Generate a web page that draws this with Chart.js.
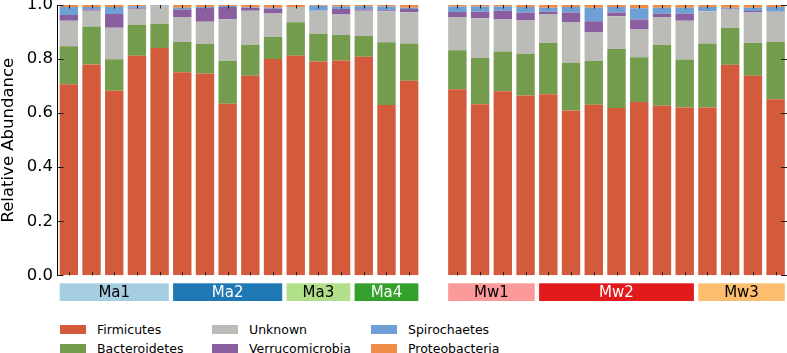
<!DOCTYPE html>
<html><head><meta charset="utf-8">
<script src="https://cdn.jsdelivr.net/npm/chart.js@4/dist/chart.umd.min.js"></script>
<style>
html,body{margin:0;padding:0;background:#fff;}
body{width:787px;height:353px;overflow:hidden;position:relative;font-family:"DejaVu Sans",sans-serif;}
#cl{position:absolute;left:0;top:-10px;}
#cr{position:absolute;left:440px;top:-10px;}
.li{position:absolute;height:19px;font-size:12.5px;line-height:19px;color:#000;white-space:nowrap;}
.sw{position:absolute;left:0;top:5px;width:26px;height:9px;}
.lt{position:absolute;left:37px;top:0;}
</style></head>
<body>
<canvas id="cl" width="425" height="320"></canvas>
<canvas id="cr" width="347" height="320"></canvas>
<div id="legend"></div>
<script>
// ---- data ----
const phyla = ['Firmicutes','Bacteroidetes','Unknown','Verrucomicrobia','Spirochaetes','Proteobacteria'];
const phylumColors = ['#d35a3a','#739d4c','#bbbcb7','#8a5f9f','#6fa0d5','#ef8c48'];
const yTicks = [0.0,0.2,0.4,0.6,0.8,1.0];

const maSamples = ['Ma1-1','Ma1-2','Ma1-3','Ma1-4','Ma1-5','Ma2-1','Ma2-2','Ma2-3','Ma2-4','Ma2-5','Ma3-1','Ma3-2','Ma3-3','Ma4-1','Ma4-2','Ma4-3'];
const maGroups = ['Ma1','Ma2','Ma3','Ma4'];
const maGroupSizes = [5,5,3,3];
const maFirmicutes      = [.707,.780,.683,.812,.841,.751,.747,.635,.738,.800,.812,.791,.795,.809,.630,.720];
const maBacteroidetes   = [.140,.140,.116,.115,.090,.112,.109,.159,.115,.083,.124,.103,.094,.076,.232,.138];
const maUnknown         = [.095,.059,.117,.059,.064,.091,.082,.153,.126,.086,.057,.085,.076,.094,.115,.115];
const maVerrucomicrobia = [.021,.004,.051,.004,.001,.029,.051,.046,.011,.017,.000,.000,.020,.004,.004,.012];
const maSpirochaetes    = [.030,.010,.026,.005,.002,.007,.004,.003,.002,.004,.000,.018,.009,.012,.013,.005];
const maProteobacteria  = [.007,.007,.007,.005,.002,.010,.007,.004,.008,.010,.007,.003,.006,.005,.006,.010];

const mwSamples = ['Mw1-1','Mw1-2','Mw1-3','Mw1-4','Mw2-1','Mw2-2','Mw2-3','Mw2-4','Mw2-5','Mw2-6','Mw2-7','Mw3-1','Mw3-2','Mw3-3','Mw3-4'];
const mwGroups = ['Mw1','Mw2','Mw3'];
const mwGroupSizes = [4,7,4];
const mwFirmicutes      = [.688,.633,.681,.665,.670,.610,.631,.619,.641,.627,.621,.621,.779,.738,.651];
const mwBacteroidetes   = [.145,.171,.147,.155,.189,.176,.162,.218,.166,.226,.177,.237,.136,.121,.212];
const mwUnknown         = [.123,.147,.118,.123,.106,.151,.105,.121,.102,.101,.144,.119,.068,.113,.112];
const mwVerrucomicrobia = [.018,.024,.033,.029,.010,.035,.042,.014,.037,.014,.026,.000,.003,.006,.000];
const mwSpirochaetes    = [.020,.019,.015,.021,.015,.021,.050,.021,.042,.022,.022,.016,.004,.012,.018];
const mwProteobacteria  = [.006,.006,.006,.007,.010,.007,.010,.007,.012,.010,.010,.007,.010,.010,.007];

const maGroupColors = ['#a6cee3','#1f78b4','#b2df8a','#33a02c'];
const maGroupText   = ['#000','#fff','#000','#fff'];
const mwGroupColors = ['#fb9a99','#e31a1c','#fdbf6f'];
const mwGroupText   = ['#000','#fff','#000'];

// ---- chart ----
const BAR_PCT = 0.81;
const FONT = '"DejaVu Sans", sans-serif';

function datasets(series){
  return phyla.map((p,i)=>({label:p,data:series[i],backgroundColor:phylumColors[i],borderWidth:0,
    barPercentage:BAR_PCT,categoryPercentage:1}));
}

const marks = {
  id:'marks',
  afterDatasetsDraw(chart, args, opts){
    const {ctx, chartArea:a, scales:{x,y}} = chart;
    ctx.save();
    ctx.strokeStyle='#1a1a1a'; ctx.lineWidth=1;
    ctx.beginPath();
    for (const v of yTicks){
      const py = Math.round(y.getPixelForValue(v))+0.5;
      if (opts.side==='left'){ ctx.moveTo(a.left,py); ctx.lineTo(a.left+6,py); }
      else { ctx.moveTo(a.right,py); ctx.lineTo(a.right-6,py); }
    }
    for (let i=0;i<chart.data.labels.length;i++){
      const px = Math.round(x.getPixelForValue(i))+0.5;
      ctx.moveTo(px,a.top); ctx.lineTo(px,a.top+3.5);
      ctx.moveTo(px,a.bottom); ctx.lineTo(px,a.bottom-3.5);
    }
    ctx.stroke();
    const pitch = x.getPixelForValue(1)-x.getPixelForValue(0);
    const bw = pitch*BAR_PCT;
    let start = 0;
    const top = a.bottom+8, h = 17.7;
    opts.groups.forEach((g,gi)=>{
      const n = opts.sizes[gi];
      const x0 = x.getPixelForValue(start)-bw/2;
      const x1 = x.getPixelForValue(start+n-1)+bw/2;
      ctx.fillStyle = opts.colors[gi];
      ctx.fillRect(x0, top, x1-x0, h);
      ctx.fillStyle = opts.text[gi];
      ctx.font = '15px '+FONT;
      ctx.textAlign='center'; ctx.textBaseline='middle';
      ctx.fillText(g,(x0+x1)/2, top+h/2+0.5);
      start += n;
    });
    ctx.restore();
  }
};

function makeChart(id, labels, series, leftAxis, pad, groupOpts){
  return new Chart(document.getElementById(id),{
    type:'bar',
    data:{labels:labels,datasets:datasets(series)},
    plugins:[marks],
    options:{
      responsive:false, animation:false, devicePixelRatio:1,
      layout:{padding:pad},
      plugins:{legend:{display:false},tooltip:{enabled:false},marks:groupOpts},
      scales:{
        x:{stacked:true,display:false,offset:true},
        y:{stacked:true,min:0,max:1,display:leftAxis,
           afterFit:(s)=>{ s.width = leftAxis ? 57.5 : 0; },
           grid:{display:false,drawTicks:false},
           border:{display:true,color:'#000',width:1},
           ticks:{stepSize:0.2,padding:4.5,color:'#000',font:{family:FONT,size:16.5},callback:v=>v.toFixed(1)},
           title:{display:true,text:'Relative Abundance',color:'#000',font:{family:FONT,size:16.5,lineHeight:1},padding:{top:0.5,bottom:0}}
        }
      }
    }
  });
}

makeChart('cl', maSamples,
  [maFirmicutes,maBacteroidetes,maUnknown,maVerrucomicrobia,maSpirochaetes,maProteobacteria],
  true, {top:15,right:4.5,bottom:34.7,left:0},
  {side:'left',groups:maGroups,sizes:maGroupSizes,colors:maGroupColors,text:maGroupText});
makeChart('cr', mwSamples,
  [mwFirmicutes,mwBacteroidetes,mwUnknown,mwVerrucomicrobia,mwSpirochaetes,mwProteobacteria],
  false, {top:15,right:0,bottom:34.7,left:6},
  {side:'right',groups:mwGroups,sizes:mwGroupSizes,colors:mwGroupColors,text:mwGroupText});

// ---- legend (3 columns, column-major) ----
const legendCols = [60,212,371];
const legendRows = [320,339];
const lg = document.getElementById('legend');
phyla.forEach((p,i)=>{
  const d = document.createElement('div');
  d.className='li';
  d.style.left = legendCols[Math.floor(i/2)]+'px';
  d.style.top = legendRows[i%2]+'px';
  d.innerHTML = '<span class="sw" style="background:'+phylumColors[i]+'"></span><span class="lt"></span>';
  d.querySelector('.lt').textContent = p;
  lg.appendChild(d);
});
</script>
</body></html>
